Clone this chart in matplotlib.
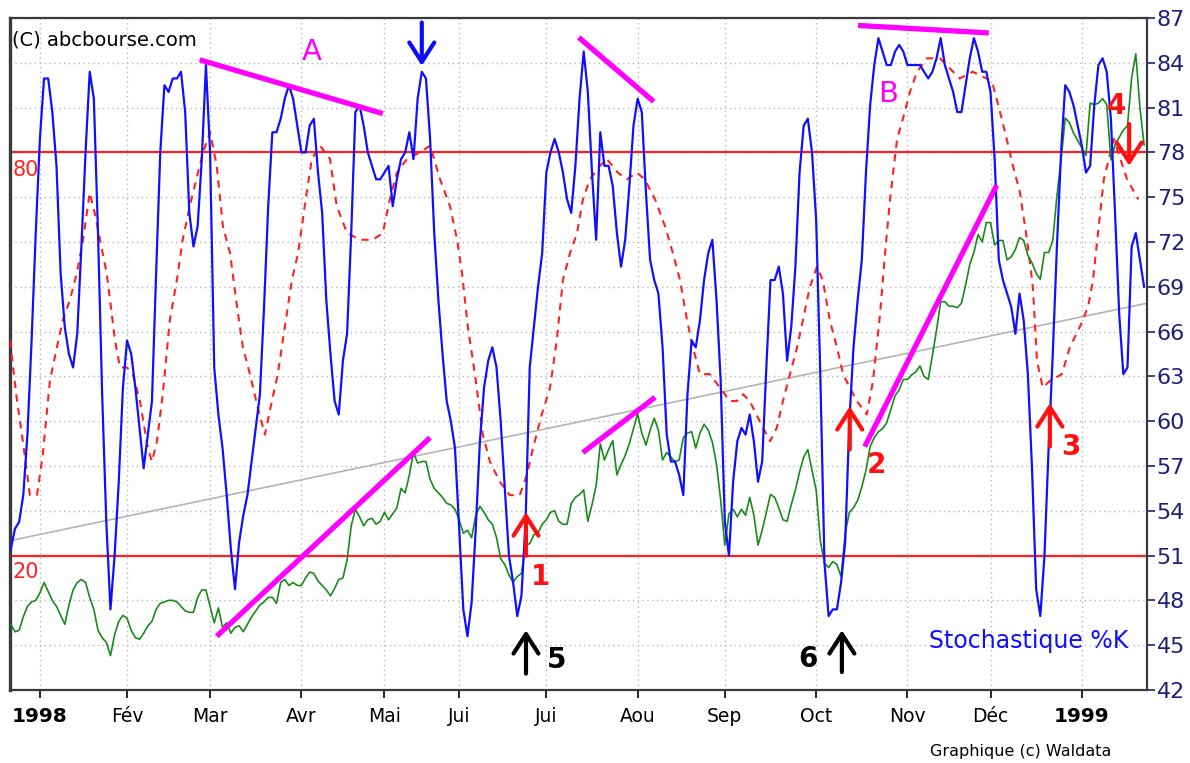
import numpy as np
import pandas as pd
import matplotlib
matplotlib.use("Agg")
import matplotlib.pyplot as plt

plt.rcParams['font.family'] = ['DejaVu Sans']

# trading calendar (Paris bourse), first bar 22/12/1997
holidays = ['1997-12-25', '1998-01-01', '1998-04-10', '1998-04-13', '1998-05-01',
            '1998-05-08', '1998-05-21', '1998-06-01', '1998-07-14', '1998-11-11',
            '1998-12-25', '1999-01-01']
first_day = -7   # index of 22/12/1997, 02/01/1998 is day 0
n_days = 274

month_names = ['Jan', 'Fév', 'Mar', 'Avr', 'Mai', 'Jui', 'Jui', 'Aou', 'Sep', 'Oct', 'Nov', 'Déc']

# closing price (green), one value per trading day from day -7
price = [
    46.4, 45.9, 46.0, 46.9, 47.6, 47.9, 48.0, 48.5, 49.2, 48.6,
    48.0, 47.6, 47.0, 46.4, 47.7, 48.7, 49.2, 49.4, 49.2, 48.2,
    47.4, 46.0, 45.5, 45.2, 44.3, 45.7, 46.6, 47.0, 46.8, 46.0,
    45.5, 45.4, 45.8, 46.3, 46.6, 47.4, 47.8, 47.9, 48.0, 48.0,
    47.9, 47.6, 47.3, 47.2, 47.2, 48.2, 48.7, 48.7, 47.6, 46.5,
    47.5, 46.2, 46.5, 45.8, 46.2, 46.3, 45.9, 46.4, 46.9, 47.3,
    47.7, 47.9, 48.2, 48.2, 47.8, 49.2, 49.4, 49.0, 49.2, 49.0,
    49.0, 49.5, 49.9, 49.8, 49.3, 49.0, 48.7, 48.3, 48.8, 49.4,
    49.5, 50.7, 53.0, 54.1, 53.6, 53.0, 53.4, 53.5, 53.1, 53.3,
    53.9, 53.4, 53.8, 54.2, 55.5, 55.2, 56.4, 57.9, 57.2, 57.3,
    57.3, 56.1, 55.5, 55.2, 54.9, 54.5, 54.4, 54.1, 53.4, 52.5,
    52.7, 52.2, 53.7, 54.3, 53.9, 53.4, 53.1, 52.2, 50.8, 50.4,
    49.7, 49.2, 49.6, 49.8, 51.7, 51.8, 52.4, 52.5, 53.1, 53.4,
    53.9, 54.0, 53.3, 53.1, 53.1, 54.5, 54.9, 55.1, 55.4, 53.3,
    54.4, 55.7, 58.5, 57.4, 58.1, 58.7, 56.4, 57.1, 57.7, 58.5,
    59.5, 60.5, 59.2, 58.4, 59.4, 60.2, 59.4, 57.4, 57.9, 57.6,
    57.3, 57.4, 58.9, 59.2, 59.3, 58.2, 59.2, 59.8, 59.4, 58.6,
    57.1, 54.7, 51.7, 53.8, 54.1, 53.6, 54.1, 53.7, 54.9, 53.7,
    51.7, 52.7, 53.9, 55.1, 54.9, 54.2, 53.4, 53.3, 54.4, 55.4,
    56.6, 57.6, 58.1, 56.7, 55.4, 52.0, 50.5, 50.2, 50.6, 50.4,
    49.6, 52.5, 53.9, 54.2, 54.7, 55.6, 56.7, 58.3, 58.9, 59.3,
    59.5, 59.9, 60.8, 61.7, 62.1, 62.8, 62.8, 63.1, 63.3, 63.7,
    63.0, 62.8, 64.4, 66.1, 68.0, 68.0, 67.7, 67.7, 67.6, 67.9,
    69.1, 70.5, 71.3, 72.5, 72.0, 73.3, 73.3, 71.8, 72.1, 72.1,
    70.8, 71.0, 71.5, 72.3, 72.1, 71.1, 70.6, 69.9, 69.5, 71.3,
    71.3, 72.1, 75.1, 77.5, 80.3, 80.0, 79.3, 78.8, 78.3, 77.8,
    81.3, 81.2, 81.3, 81.6, 81.2, 77.5, 78.5, 79.0, 79.5, 79.8,
    83.0, 84.6, 81.0, 78.5,
]

# stochastic %K (0-100), one value per trading day from day -7
stoch_k = [
    21, 24, 25, 29, 38, 52, 68, 82, 91, 91,
    86, 78, 62, 54, 50, 48, 53, 66, 80, 92,
    88, 68, 44, 25, 12, 20, 31, 45, 52, 50,
    45, 39, 33, 38, 43, 62, 80, 90, 89, 91,
    91, 92, 86, 71, 66, 69, 79, 93, 80, 48,
    41, 36, 29, 21, 15, 22, 26, 29, 34, 39,
    44, 57, 72, 83, 83, 85, 88, 90, 88, 84,
    80, 80, 84, 85, 77, 71, 58, 50, 43, 41,
    49, 53, 68, 86, 87, 84, 80, 78, 76, 76,
    77, 78, 72, 76, 79, 80, 83, 79, 88, 92,
    91, 82, 68, 58, 50, 43, 40, 36, 24, 12,
    8, 13, 24, 37, 45, 49, 51, 48, 40, 30,
    20, 16, 11, 14, 25, 48, 54, 60, 65, 77,
    80, 82, 80, 77, 73, 71, 78, 88, 95, 89,
    77, 67, 83, 78, 78, 75, 68, 63, 67, 75,
    84, 88, 86, 74, 64, 61, 59, 51, 38, 34,
    34, 32, 29, 44, 52, 51, 55, 61, 65, 67,
    58, 46, 25, 20, 31, 37, 39, 38, 41, 37,
    31, 34, 48, 61, 61, 63, 59, 49, 54, 63,
    77, 84, 85, 80, 70, 47, 19, 11, 12, 12,
    16, 22, 40, 51, 58, 64, 77, 87, 93, 97,
    95, 93, 93, 95, 96, 95, 93, 93, 93, 93,
    92, 91, 92, 94, 97, 93, 91, 89, 86, 86,
    90, 94, 97, 95, 92, 92, 89, 79, 64, 61,
    59, 57, 53, 59, 55, 47, 33, 15, 11, 20,
    36, 50, 66, 80, 90, 89, 87, 84, 81, 77,
    78, 87, 93, 94, 92, 85, 71, 56, 47, 48,
    66, 68, 64, 60,
]

# stochastic signal (red dashed), read at irregular days
signal_day = [
    -7.2, -5.5, -4.1, -2.4, -0.7, 0.7, 2.4, 4.1, 5.5, 7.2,
    8.9, 10.4, 12.0, 13.2, 14.5, 16.1, 18.1, 19.3, 21.0, 22.4,
    24.1, 26.0, 27.0, 28.2, 29.6, 31.3, 33.0, 34.4, 36.1, 38.1,
    39.3, 41.0, 42.6, 44.1, 45.8, 47.5, 48.9, 50.6, 52.5, 54.2,
    55.9, 57.3, 59.0, 60.7, 62.2, 63.8, 65.5, 67.5, 69.9, 71.5,
    74.0, 77.1, 80.2, 82.6, 84.3, 86.0, 88.4, 91.5, 94.0, 96.4,
    98.8, 100.5, 101.7, 103.1, 104.8, 106.7, 108.4, 110.8, 113.2, 115.6,
    117.3, 118.8, 120.9, 122.9, 124.5, 126.0, 127.7, 129.4, 130.8, 132.5,
    134.9, 136.6, 139.2, 141.4, 143.8, 145.7, 148.2, 150.6, 152.5, 154.2,
    155.9, 157.3, 159.0, 161.4, 163.8, 166.2, 167.9, 169.4, 171.0, 173.4,
    175.9, 177.5, 179.0, 180.7, 182.4, 183.8, 185.5, 187.2, 188.6, 190.3,
    192.0, 193.5, 195.1, 196.8, 199.2, 200.7, 202.4, 203.6, 204.8, 206.5,
    207.9, 209.6, 211.3, 213.7, 216.8, 220.0, 221.6, 224.7, 228.1, 229.6,
    231.3, 232.9, 234.4, 236.1, 237.8, 239.2, 240.2, 241.6, 243.3, 246.2,
    248.1, 250.5, 252.5, 253.7, 254.2, 256.3, 258.7, 261.9, 264.6,
]
signal_val = [
    52, 43, 37, 29, 29, 35, 46, 51, 55, 58,
    62, 67, 74, 71, 67, 62, 52, 48, 48, 47,
    43, 36, 34, 37, 44, 55, 61, 67, 72, 77,
    80, 83, 78, 69, 65, 57, 51, 47, 42, 38,
    43, 47, 54, 61, 65, 72, 79, 81, 79, 72,
    68, 67, 67, 68, 73, 77, 79, 80, 81, 76,
    72, 67, 62, 54, 47, 38, 34, 31, 29, 29,
    32, 36, 41, 45, 52, 61, 65, 68, 73, 76,
    78, 79, 77, 76, 77, 76, 73, 69, 65, 61,
    55, 51, 47, 47, 45, 43, 43, 44, 43, 40,
    37, 39, 43, 47, 51, 55, 60, 63, 61, 55,
    51, 47, 45, 43, 41, 46, 56, 65, 73, 82,
    85, 89, 92, 94, 94, 92, 91, 92, 91, 90,
    86, 82, 78, 74, 67, 60, 49, 45, 46, 47,
    51, 54, 57, 61, 64, 76, 82, 76, 73,
]

# long term trend (grey) and drawn trend lines (magenta), price units
trend_day = [-7.2, 266.7]
trend_val = [52.0, 67.9]
tl_day = [(38.5, 82.6), (129.8, 147.9), (197.1, 228.6), (42.6, 94.0), (130.8, 148.2), (198.7, 230.5)]
tl_val = [(84.2, 80.6), (85.7, 81.4), (86.5, 86.0), (45.6, 58.9), (57.9, 61.6), (58.3, 75.8)]

# signal arrows: (day, tail price, head price, colour)
arrow_day = [92.0, 117.1, 117.1, 193.2, 195.1, 243.3, 262.4]
arrow_tail = [86.7, 51.0, 43.1, 43.2, 58.1, 58.3, 79.9]
arrow_head = [83.8, 53.9, 46.0, 46.0, 61.0, 61.2, 77.1]
arrow_col = ['#0a0aff', '#ff1010', 'black', 'black', '#ff1010', '#ff1010', '#ff1010']

label_txt = ['1', '5', '6', '2', '3', '4']
label_day = [120.7, 124.5, 185.0, 201.6, 248.4, 259.4]
label_val = [49.6, 44.0, 44.1, 57.1, 58.3, 81.1]
label_col = ['#ff1010', 'black', 'black', '#ff1010', '#ff1010', '#ff1010']

y_lo, y_hi = 42, 87


def stoch_to_price(s):
    return y_lo + np.asarray(s, dtype=float) / 100.0 * (y_hi - y_lo)


dates = pd.date_range('1997-12-22', periods=n_days,
                      freq=pd.offsets.CustomBusinessDay(holidays=holidays))
days = np.arange(n_days) + first_day
new_month = np.r_[False, dates.month[1:] != dates.month[:-1]] | (days == 0)
tick_pos = days[new_month]
tick_lab = [str(d.year) if d.month == 1 else month_names[d.month - 1] for d in dates[new_month]]

fig = plt.figure(figsize=(11.9, 7.63), dpi=100)
ax = fig.add_axes([10 / 1190, 73 / 763, 1137 / 1190, 672 / 763])

ax.set_xlim(-7.2, 266.7)
ax.set_ylim(y_lo, y_hi)
ax.set_axisbelow(True)
ax.grid(True, color='#b8b8b8', linestyle=(0, (1, 2.5)), linewidth=1)

ax.plot(trend_day, trend_val, color='#b4b4b4', lw=1.2, zorder=2)
ax.axhline(stoch_to_price(80), color='#ff2020', lw=1.6, zorder=2)
ax.axhline(stoch_to_price(20), color='#ff2020', lw=1.6, zorder=2)
ax.plot(signal_day, stoch_to_price(signal_val), color='#ff2020', lw=1.5,
        ls=(0, (3.5, 3)), zorder=3)
ax.plot(days, price, color='#1a8a1a', lw=1.2, zorder=4)
ax.plot(days, stoch_to_price(stoch_k), color='#1010ff', lw=1.6, zorder=5)

for xd, yv in zip(tl_day, tl_val):
    ax.plot(xd, yv, color='#ff00ff', lw=3.8, solid_capstyle='butt', zorder=6)

for xd, yt, yh, c in zip(arrow_day, arrow_tail, arrow_head, arrow_col):
    ax.annotate('', xy=(xd, yh), xytext=(xd, yt),
                arrowprops=dict(arrowstyle='->,head_length=0.7,head_width=0.45',
                                color=c, lw=3, mutation_scale=20,
                                shrinkA=0, shrinkB=0), zorder=7)

for t, xd, yv, c in zip(label_txt, label_day, label_val, label_col):
    ax.text(xd, yv, t, color=c, fontsize=20, fontweight='bold',
            ha='center', va='center', zorder=8)

ax.text(65.5, 84.7, 'A', color='#ff00ff', fontsize=21, ha='center', va='center')
ax.text(204.3, 81.9, 'B', color='#ff00ff', fontsize=21, ha='center', va='center')
ax.text(-6.6, 76.8, '80', color='#ff2020', fontsize=15, ha='left', va='center')
ax.text(-6.6, 49.9, '20', color='#ff2020', fontsize=15, ha='left', va='center')
ax.text(238.2, 45.3, 'Stochastique %K', color='#1010ff', fontsize=17,
        ha='center', va='center')
ax.text(0.002, 0.967, '(C) abcbourse.com', color='black', fontsize=14,
        ha='left', va='center', transform=ax.transAxes)
fig.text(0.858, 0.0145, 'Graphique (c) Waldata', color='black', fontsize=11.5,
         ha='center', va='center')

ax.yaxis.tick_right()
ax.set_yticks(np.arange(y_lo, y_hi + 1, 3))
ax.tick_params(axis='y', colors='#1f1f78', labelsize=16, length=6, width=1.2, pad=1)
ax.set_xticks(tick_pos)
ax.set_xticklabels(tick_lab)
ax.tick_params(axis='x', colors='black', labelsize=13.5, length=6, width=1.2, pad=6)
for lab in ax.get_xticklabels():
    if lab.get_text().isdigit():
        lab.set_fontweight('bold')
        lab.set_fontsize(14.5)

for side in ['left', 'right', 'top', 'bottom']:
    ax.spines[side].set_color('#3a3a3a')
    ax.spines[side].set_linewidth(1.6)
ax.spines['left'].set_linewidth(2.4)

fig.savefig('out.png', dpi=100)
